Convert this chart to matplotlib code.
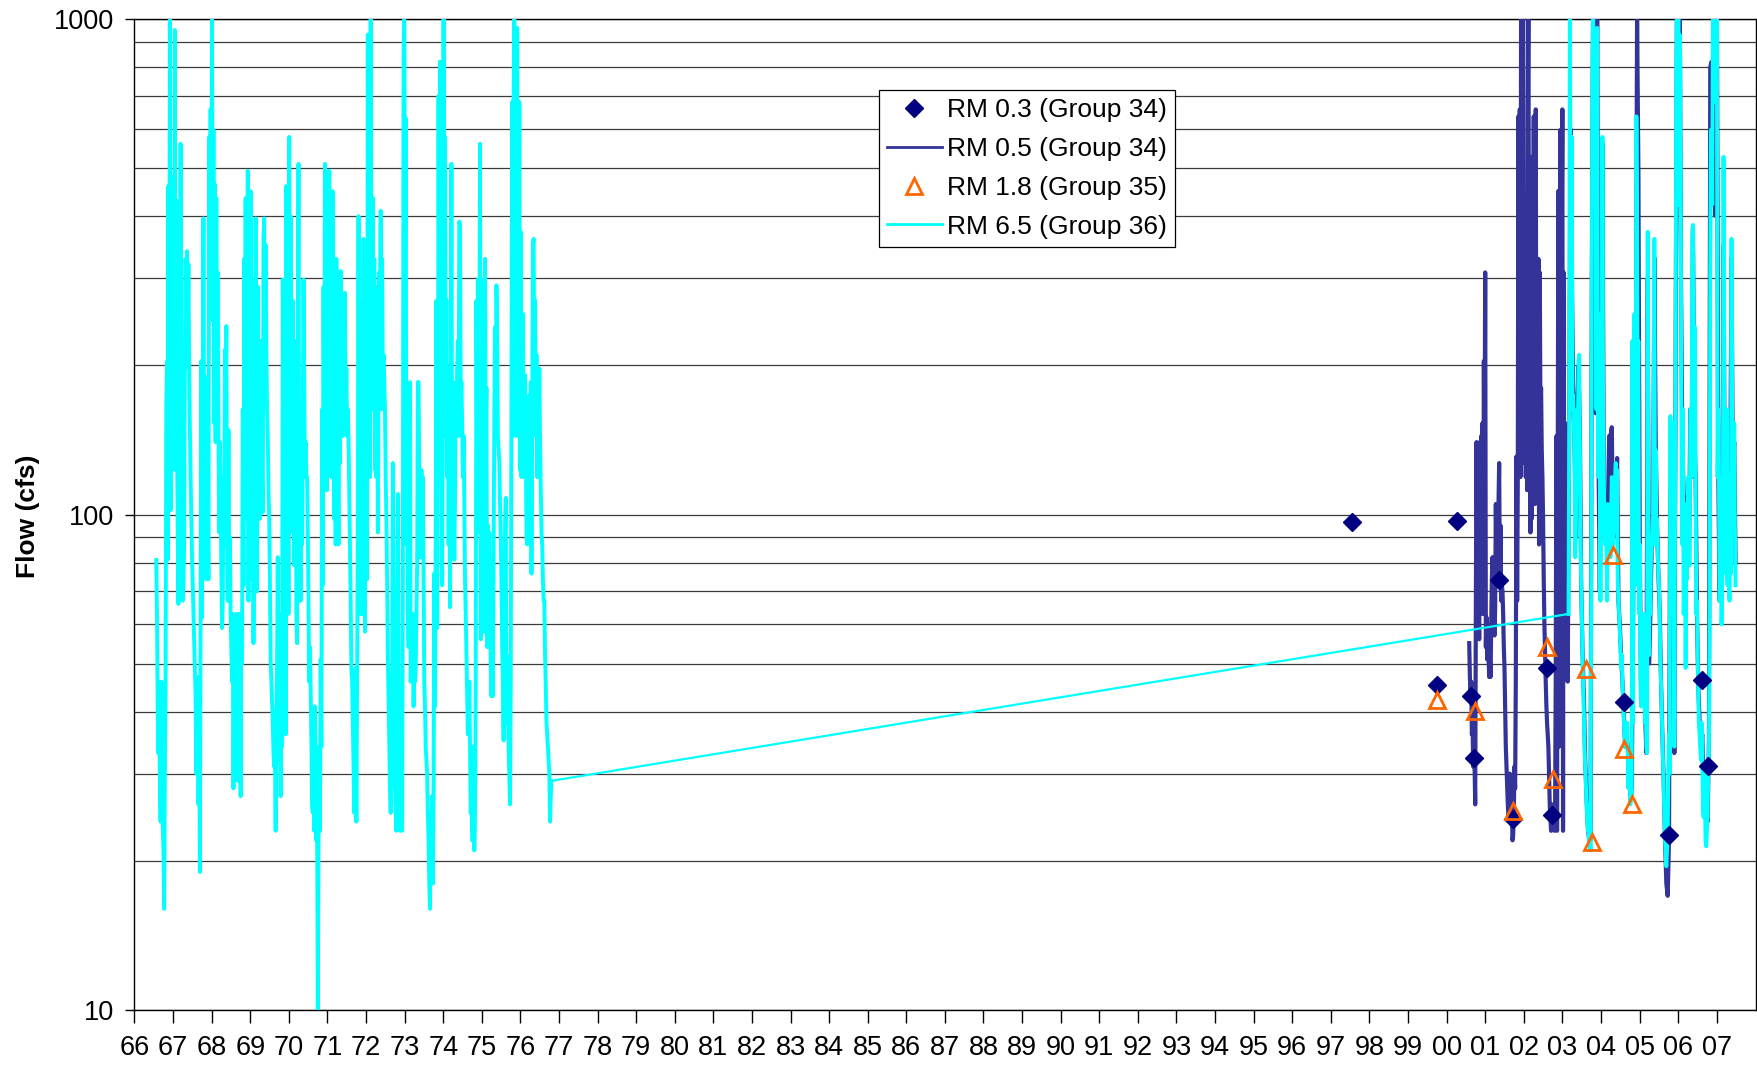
import matplotlib
matplotlib.use("Agg")
import matplotlib.pyplot as plt
from matplotlib.ticker import LogLocator, NullFormatter, FixedLocator
from matplotlib.lines import Line2D
import numpy as np

plt.rcParams['font.family'] = ['Liberation Sans', 'DejaVu Sans']

# RM 6.5 (Group 36), 1966-1976 record, one reading every 1/54 yr
cyan_early_start = 1966.565
cyan_early = [
    81, 62, 40, 33, 46, 30, 24, 46, 42, 24, 21, 16, 30, 45, 165, 204, 81, 460, 102, 1100,
    102, 254, 123, 140, 480, 130, 950, 123, 430, 140, 92, 66, 224, 85, 560, 120, 120, 67, 72, 87,
    204, 328, 198, 340, 224, 320, 198, 150, 120, 100, 82, 72, 64, 55, 48, 43, 30, 40, 47, 26,
    38, 19, 63, 204, 62, 163, 396, 92, 190, 144, 74, 185, 119, 74, 578, 290, 657, 308, 1100, 246,
    597, 153, 464, 140, 435, 185, 308, 153, 92, 140, 108, 79, 59, 67, 119, 87, 215, 153, 240, 92,
    67, 148, 74, 90, 63, 54, 46, 63, 28, 57, 39, 30, 63, 38, 29, 63, 36, 52, 27, 63,
    50, 163, 72, 328, 98, 435, 144, 119, 494, 67, 224, 105, 449, 119, 74, 298, 55, 119, 98, 396,
    163, 70, 288, 112, 185, 98, 224, 163, 119, 101, 360, 396, 170, 350, 224, 163, 144, 112, 98, 74,
    51, 46, 41, 38, 33, 31, 34, 23, 38, 51, 82, 32, 56, 46, 27, 63, 34, 298, 102, 119,
    174, 36, 460, 102, 224, 63, 578, 92, 400, 185, 98, 270, 127, 79, 119, 224, 63, 55, 158, 510,
    67, 123, 67, 163, 87, 163, 298, 191, 119, 140, 119, 119, 92, 67, 46, 54, 45, 35, 26, 25,
    38, 23, 41, 32, 22, 26, 9.8, 22, 34, 23, 51, 34, 163, 72, 288, 112, 510, 168, 246, 112,
    420, 153, 494, 135, 349, 119, 288, 449, 163, 98, 185, 87, 328, 119, 163, 87, 224, 127, 310, 163,
    185, 144, 240, 224, 280, 153, 197, 144, 163, 144, 112, 87, 67, 49, 46, 38, 31, 25, 34, 49,
    24, 46, 98, 400, 72, 163, 63, 270, 63, 153, 360, 119, 58, 119, 185, 74, 930, 163, 510, 119,
    1100, 308, 163, 435, 180, 328, 123, 185, 119, 288, 92, 163, 308, 239, 410, 163, 328, 191, 210, 185,
    163, 119, 98, 74, 52, 43, 35, 28, 25, 34, 46, 127, 74, 34, 28, 25, 23, 34, 110, 46,
    34, 23, 27, 31, 23, 74, 850, 1100, 308, 630, 87, 163, 63, 54, 70, 185, 46, 59, 56, 63,
    41, 52, 46, 49, 63, 79, 185, 185, 119, 82, 82, 123, 98, 119, 76, 46, 41, 34, 32, 30,
    25, 22, 18, 16, 25, 20, 27, 18, 27, 76, 41, 87, 270, 59, 112, 700, 163, 820, 119, 239,
    72, 163, 1100, 144, 578, 174, 271, 119, 197, 87, 144, 65, 163, 510, 98, 163, 119, 81, 108, 185,
    144, 197, 224, 144, 390, 384, 174, 185, 153, 119, 144, 108, 74, 63, 52, 43, 36, 38, 46, 34,
    25, 27, 22, 22, 34, 21, 25, 46, 270, 112, 298, 92, 149, 560, 56, 95, 298, 119, 58, 163,
    328, 140, 180, 54, 95, 76, 92, 70, 49, 43, 63, 43, 82, 158, 239, 153, 290, 224, 144, 135,
    127, 105, 90, 72, 54, 46, 35, 63, 92, 108, 38, 52, 46, 34, 30, 26, 46, 163, 680, 144,
    680, 1100, 185, 578, 144, 960, 153, 224, 680, 123, 372, 119, 163, 254, 153, 119, 191, 149, 90, 87,
    153, 119, 174, 127, 185, 76, 153, 350, 360, 185, 271, 144, 210, 119, 174, 140, 197, 140, 112, 92,
    87, 74, 67, 67, 52, 45, 38, 36, 34, 32, 30, 24,
]
# last reading before the gap
cyan_gap_year = 1976.80
cyan_gap_flow = 29

# RM 6.5 (Group 36), 2003-2007 record, one reading every 1/58 yr
cyan_late_start = 2003.16
cyan_late = [
    63, 153, 1100, 449, 163, 578, 163, 174, 153, 135, 82, 92, 119, 163, 140, 204, 210, 144, 92, 72,
    63, 52, 46, 40, 34, 31, 29, 26, 24.5, 23, 24.5, 22, 26, 21, 63, 308, 800, 1100, 578, 930,
    422, 750, 163, 960, 224, 119, 254, 127, 67, 140, 127, 578, 163, 119, 98, 87, 92, 87, 67, 105,
    90, 98, 92, 82, 98, 119, 112, 87, 105, 92, 119, 127, 105, 123, 74, 67, 63, 59, 54, 49,
    52, 46, 43, 39, 36, 34, 36, 34, 38, 33, 28, 32, 30, 26, 28, 27, 224, 38, 119, 254,
    72, 163, 636, 400, 163, 224, 63, 87, 46, 41, 63, 46, 54, 63, 49, 38, 43, 34, 33, 372,
    63, 52, 72, 63, 82, 87, 92, 98, 163, 360, 87, 135, 92, 98, 87, 76, 72, 63, 52, 46,
    41, 36, 32, 28, 25, 22, 21, 19.5, 21, 22, 30, 36, 30, 158, 92, 119, 153, 63, 87, 34,
    92, 224, 800, 1100, 421, 1000, 578, 930, 800, 308, 119, 87, 163, 63, 72, 105, 49, 87, 74, 92,
    119, 82, 79, 163, 163, 119, 360, 384, 254, 163, 239, 119, 63, 67, 54, 44, 38, 36, 34, 32,
    38, 34, 26, 24.5, 30, 26, 22, 21.4, 23, 24.5, 30, 32, 60, 308, 597, 578, 422, 1100, 800, 1100,
    680, 1100, 800, 1100, 119, 163, 127, 67, 76, 119, 60, 74, 92, 527, 119, 87, 127, 76, 163, 72,
    98, 74, 67, 119, 76, 360, 105, 127, 98, 153, 98, 72,
]

# RM 0.5 (Group 34), one reading every 1/58 yr to early 2003
navy_a_start = 2000.587
navy_a = [
    55, 47, 43, 46, 36, 38, 31, 38, 31, 26, 67, 140, 82, 62, 70, 56, 140, 63, 144, 72,
    153, 63, 204, 119, 308, 54, 62, 51, 60, 52, 47, 52, 47, 60, 74, 82, 74, 63, 57, 65,
    105, 79, 101, 72, 105, 127, 72, 95, 67, 72, 70, 63, 54, 49, 41, 34, 31, 28, 26, 24.5,
    25, 30, 28, 24.5, 26, 22, 22.5, 25, 31, 28, 46, 131, 67, 119, 636, 144, 657, 119, 1200, 360,
    174, 1200, 144, 127, 360, 119, 174, 112, 657, 1200, 144, 185, 92, 527, 98, 144, 119, 636, 135, 105,
    657, 119, 144, 127, 328, 87, 308, 163, 180, 135, 119, 98, 74, 60, 52, 46, 41, 38, 36, 34,
    30, 26, 24.5, 23, 24.5, 26, 24, 25, 23, 24.5, 46, 144, 23, 119, 450, 34, 163, 597, 46, 360,
    657, 23, 308, 63, 153, 74, 63, 54, 46,
]
# RM 0.5 (Group 34), one reading every 2/58 yr after early 2003
navy_b_start = 2003.178
navy_b = [
    150, 600, 300, 180, 140, 90, 160, 200, 150, 72, 53, 43, 32, 27, 23.5, 22, 22, 300, 1200, 1200,
    160, 1200, 130, 70, 140, 560, 112, 90, 87, 100, 144, 144, 150, 90, 95, 110, 130, 67, 60, 52,
    46, 40, 34, 36, 34, 30, 27, 28, 60, 250, 180, 1000, 490, 87, 45, 46, 60, 40, 33, 300,
    50, 63, 87, 92, 330, 140, 95, 76, 64, 46, 36, 29, 22, 18, 17, 22, 150, 119, 63, 33,
    220, 1200, 1200, 1200, 300, 140, 110, 105, 75, 92, 79, 163, 119, 380, 150, 119, 63, 45, 38, 34,
    36, 28, 30, 25, 24, 35, 800, 820, 700, 900, 400, 1100, 125, 67, 110, 78, 350, 90, 100, 75,
    80, 120, 330, 115, 140, 80,
]

# RM 0.3 (Group 34) samples
rm03_year = [1997.55, 2000.26, 1999.75, 2000.63, 2000.71, 2001.35, 2001.72, 2002.60, 2002.74,
             2004.61, 2005.77, 2006.61, 2006.77]
rm03_flow = [96.5, 97, 45.2, 43, 32.3, 73.8, 24.3, 48.9, 24.8, 41.8, 22.6, 46.4, 31.1]

# RM 1.8 (Group 35) samples
rm18_year = [1999.75, 2000.73, 2001.71, 2002.60, 2002.75, 2003.61, 2003.76, 2004.31, 2004.61, 2004.80]
rm18_flow = [42.2, 40.2, 25.2, 54.0, 29.3, 48.7, 21.8, 83, 33.6, 26.1]

years = list(range(1966, 2008))
year_labels = ["%02d" % (y % 100) for y in years]

early_t = cyan_early_start + np.arange(len(cyan_early)) / 54.0
late_t = cyan_late_start + np.arange(len(cyan_late)) / 58.0
early_t = np.append(early_t, cyan_gap_year)
early_v = np.append(cyan_early, cyan_gap_flow)
navy_t = np.concatenate([navy_a_start + np.arange(len(navy_a)) / 58.0,
                         navy_b_start + np.arange(len(navy_b)) * 2 / 58.0])
navy_v = np.concatenate([navy_a, navy_b])

fig = plt.figure(figsize=(17.58, 10.67), dpi=100)
ax = fig.add_axes([0.0765, 0.0534, 0.9224, 0.9288])

ax.plot(navy_t, navy_v, color='#333399', lw=3.0, zorder=3)
ax.plot(early_t, early_v, color='#00FFFF', lw=2.8, zorder=4)
# the long straight stretch across the missing years
ax.plot([early_t[-1], late_t[0]], [early_v[-1], cyan_late[0]], color='#00FFFF', lw=1.6, zorder=4)
ax.plot(late_t, cyan_late, color='#00FFFF', lw=2.8, zorder=4)
ax.plot(rm03_year, rm03_flow, ls='none', marker='D', ms=9, color='#000080', zorder=5)
ax.plot(rm18_year, rm18_flow, ls='none', marker='^', ms=11, mfc='none', mec='#FF6600',
        mew=2, zorder=6)

ax.set_yscale('log')
ax.set_ylim(10, 1000)
ax.set_xlim(1966, 2008.02)
ax.yaxis.set_major_locator(FixedLocator([10, 100, 1000]))
ax.set_yticklabels(['10', '100', '1000'])
ax.yaxis.set_minor_locator(LogLocator(base=10, subs=np.arange(2, 10)))
ax.yaxis.set_minor_formatter(NullFormatter())
ax.grid(axis='y', which='both', color='#3a3a3a', lw=0.9, zorder=1)
ax.set_axisbelow(True)

ax.set_xticks(years)
ax.set_xticklabels(year_labels, family=['Liberation Sans Narrow', 'Liberation Sans'], fontsize=19.5)
ax.tick_params(axis='x', direction='out', length=9, width=1, pad=9)
ax.tick_params(axis='y', which='major', direction='out', length=6.5, width=1, pad=8, labelsize=19.5)
ax.tick_params(axis='y', which='minor', length=0)

for s in ax.spines.values():
    s.set_color('black')
    s.set_linewidth(1)

ax.set_ylabel('Flow (cfs)', fontsize=19, fontweight='bold')
ax.yaxis.set_label_coords(-0.058, 0.498)

handles = [
    Line2D([], [], ls='none', marker='D', ms=9, color='#000080'),
    Line2D([], [], color='#333399', lw=2),
    Line2D([], [], ls='none', marker='^', ms=11, mfc='none', mec='#FF6600', mew=2),
    Line2D([], [], color='#00FFFF', lw=2),
]
labels = ['RM 0.3 (Group 34)', 'RM 0.5 (Group 34)', 'RM 1.8 (Group 35)', 'RM 6.5 (Group 36)']
leg = ax.legend(handles, labels, loc='upper left', bbox_to_anchor=(0.459, 0.928),
                fontsize=19, frameon=True, fancybox=False, edgecolor='black',
                framealpha=1, borderpad=0.3, labelspacing=0.56, handlelength=2.1,
                handletextpad=0.2, borderaxespad=0)
leg.get_frame().set_linewidth(0.9)
leg.set_zorder(10)

fig.savefig('out.png', dpi=100)
